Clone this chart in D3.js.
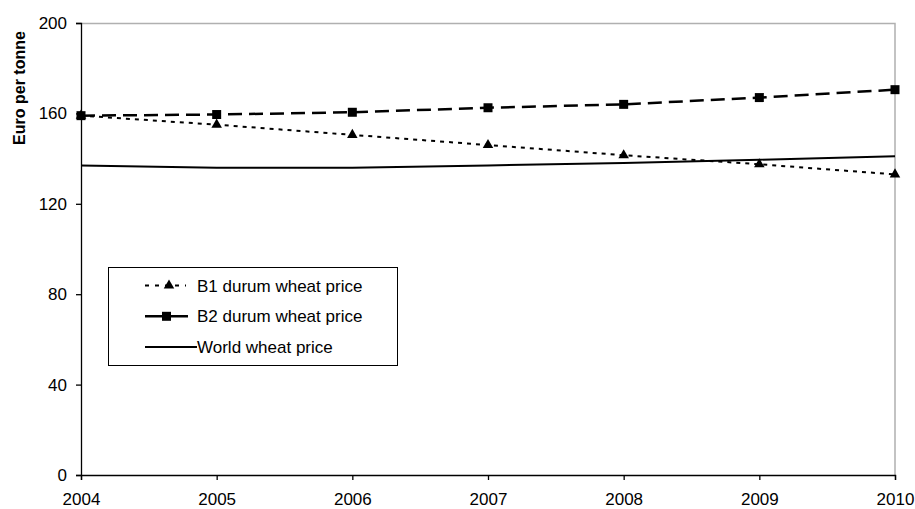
<!DOCTYPE html>
<html>
<head>
<meta charset="utf-8">
<script src="https://cdn.jsdelivr.net/npm/d3@7"></script>
<style>
  body { margin: 0; background: #fff; }
  text { font-family: "Liberation Sans", Arial, sans-serif; }
</style>
</head>
<body>
<svg id="chart"></svg>
<script>
// data
var years = [2004, 2005, 2006, 2007, 2008, 2009, 2010];
var b1Price = [159, 155, 150.5, 146, 141.5, 137.5, 133];
var b2Price = [159, 159.5, 160.5, 162.5, 164, 167, 170.5];
var worldPrice = [137, 136, 136, 137, 138, 139.5, 141];
var yTicks = [0, 40, 80, 120, 160, 200];
var seriesNames = ["B1 durum wheat price", "B2 durum wheat price", "World wheat price"];

var W = 915, H = 509;
var margin = { top: 23, right: 20, bottom: 34, left: 81 };
var width = 895 - margin.left;
var height = 475 - margin.top;
var fontSize = 17;

var svg = d3.select("#chart")
    .attr("width", W)
    .attr("height", H)
    .append("g")
    .attr("transform", "translate(" + margin.left + "," + margin.top + ")");

var x = d3.scaleLinear().domain([2004, 2010]).range([0, width]);
var y = d3.scaleLinear().domain([0, 200]).range([height, 0]);

// grey frame top and right
svg.append("path")
    .attr("d", "M0,0.5H" + width + "V" + height)
    .attr("fill", "none")
    .attr("stroke", "#b0b0b0")
    .attr("stroke-width", 1.5);

// axes
var xAxis = svg.append("g")
    .attr("transform", "translate(0," + height + ")")
    .call(d3.axisBottom(x).tickValues(years).tickFormat(d3.format("d")).tickSizeOuter(0).tickSize(5).tickPadding(13));
var yAxis = svg.append("g")
    .call(d3.axisLeft(y).tickValues(yTicks).tickSizeOuter(0).tickSize(5).tickPadding(9));

[xAxis, yAxis].forEach(function (a) {
    a.attr("font-size", fontSize).attr("font-family", "'Liberation Sans', Arial, sans-serif");
    a.selectAll("path, line").attr("stroke", "#000").attr("stroke-width", 1.3);
    a.selectAll("text").attr("fill", "#000");
});

svg.append("text")
    .attr("transform", "rotate(-90)")
    .attr("x", -65)
    .attr("y", -56)
    .attr("text-anchor", "middle")
    .attr("font-size", 16)
    .attr("font-weight", "bold")
    .text("Euro per tonne");

var line = d3.line().x((d, i) => x(years[i])).y(d => y(d));

var series = [
    { name: seriesNames[0], values: b1Price, dash: "4,5", width: 2, marker: "triangle" },
    { name: seriesNames[1], values: b2Price, dash: "14,7", width: 2.5, marker: "square" },
    { name: seriesNames[2], values: worldPrice, dash: null, width: 2, marker: null }
];

function markerPath(m) {
    return d3.symbol()
        .type(m === "triangle" ? d3.symbolTriangle : d3.symbolSquare)
        .size(m === "triangle" ? 48 : 81)();
}

series.slice().reverse().forEach(function (s) {
    svg.append("path")
        .datum(s.values)
        .attr("d", line)
        .attr("fill", "none")
        .attr("stroke", "#000")
        .attr("stroke-width", s.width)
        .attr("stroke-dasharray", s.dash);
    if (s.marker) {
        svg.selectAll(null)
            .data(s.values)
            .enter()
            .append("path")
            .attr("d", markerPath(s.marker))
            .attr("transform", (d, i) => "translate(" + x(years[i]) + "," + y(d) + ")")
            .attr("fill", "#000");
    }
});

// legend
var legend = svg.append("g").attr("transform", "translate(" + (108 - margin.left) + "," + (267 - margin.top) + ")");
legend.append("rect")
    .attr("x", 0.5).attr("y", 0.5)
    .attr("width", 289).attr("height", 98)
    .attr("fill", "#fff")
    .attr("stroke", "#000")
    .attr("stroke-width", 1);

var legendLineEnd = [78, 80, 89];
var legendDash = ["4,6", null, null];
series.forEach(function (s, i) {
    var ly = 18.5 + i * 30.8;
    legend.append("line")
        .attr("x1", 37).attr("x2", legendLineEnd[i])
        .attr("y1", ly).attr("y2", ly)
        .attr("stroke", "#000")
        .attr("stroke-width", s.width)
        .attr("stroke-dasharray", legendDash[i]);
    if (s.marker) {
        legend.append("path")
            .attr("d", markerPath(s.marker))
            .attr("transform", "translate(" + (s.marker === "triangle" ? 61 : 58.5) + "," + ly + ")")
            .attr("fill", "#000");
    }
    legend.append("text")
        .attr("x", 89)
        .attr("y", ly + 6)
        .attr("font-size", fontSize)
        .text(s.name);
});
</script>
</body>
</html>
